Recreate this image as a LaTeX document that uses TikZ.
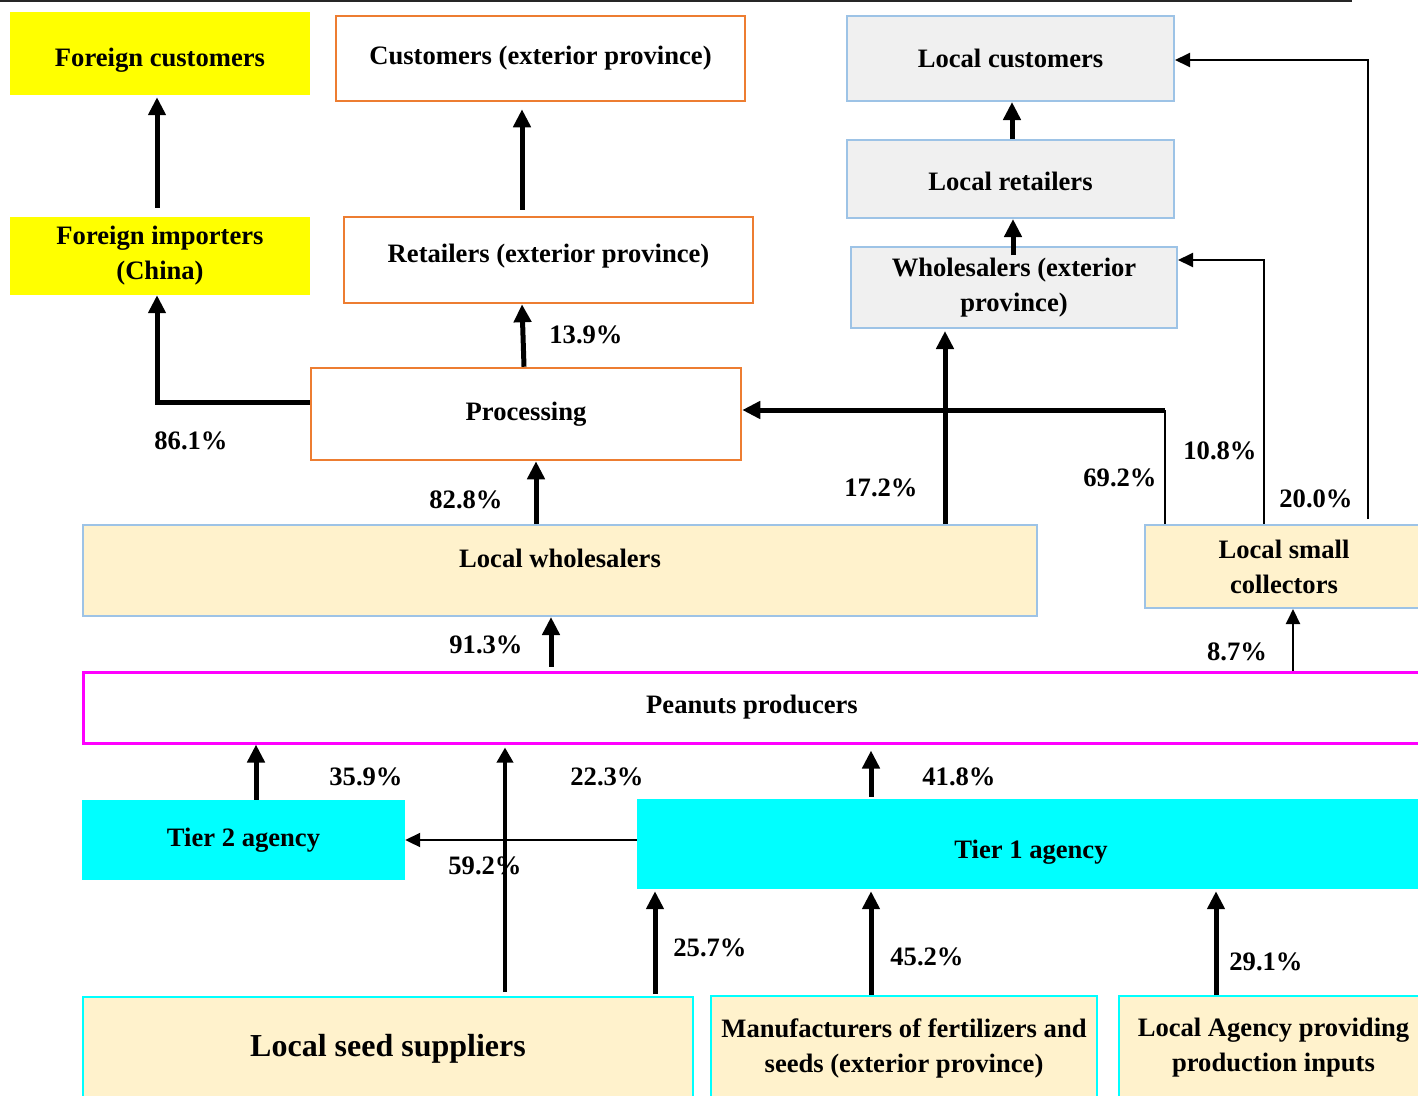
\documentclass[tikz,border=0pt]{standalone}
\usepackage{fontspec}
\setmainfont{Liberation Serif}
\usetikzlibrary{arrows.meta}

\definecolor{boxorange}{HTML}{ED7D31}
\definecolor{boxblue}{HTML}{9DC3E6}
\definecolor{boxgrey}{HTML}{F0F0F0}
\definecolor{boxcream}{HTML}{FFF2CC}
\definecolor{boxcyan}{HTML}{00FFFF}
\definecolor{boxyellow}{HTML}{FFFF00}
\definecolor{boxmagenta}{HTML}{FF00FF}

\begin{document}
\begin{tikzpicture}[x=1pt, y=-1pt,
		font=\bfseries\fontsize{26.6}{35}\selectfont,
		box/.style={rectangle, align=center, inner sep=0pt},
		yellowbox/.style={box, fill=boxyellow},
		orangebox/.style={box, draw=boxorange, line width=2.5pt, fill=white},
		greybox/.style={box, draw=boxblue, line width=2pt, fill=boxgrey},
		creambox/.style={box, draw=boxblue, line width=2pt, fill=boxcream},
		supplierbox/.style={box, draw=boxcyan, line width=2pt, fill=boxcream},
		producerbox/.style={box, draw=boxmagenta, line width=3pt, fill=white},
		cyanbox/.style={box, fill=boxcyan},
		share/.style={inner sep=0pt},
		bigarrow/.style={line width=5pt, >={Triangle[length=18pt, width=17pt]}},
		midarrow/.style={line width=3.5pt, >={Triangle[length=15pt, width=16pt]}},
		thinarrow/.style={line width=2pt, >={Triangle[length=15pt, width=14pt]}}]
		\useasboundingbox (0,0) rectangle (1418,1095);
		\clip (0,0) rectangle (1418,1095);
		\draw[line width=2pt, black!85] (0,1) -- (1352,1);

		% buyers side
		\node[yellowbox, minimum width=300pt, minimum height=83pt, text height=32pt, text depth=5.5pt] (fcus) at (160,53.5) {Foreign customers};
		\node[orangebox, minimum width=409pt, minimum height=85pt] (ccus) at (540.5,58.5) {Customers (exterior province)};
		\node[yellowbox, minimum width=300pt, minimum height=78pt] (fimp) at (160,256) {Foreign importers\\(China)};
		\node[orangebox, minimum width=409pt, minimum height=86pt, text height=18pt, text depth=13.5pt] (cret) at (548.5,260) {Retailers (exterior province)};
		\node[greybox, minimum width=327pt, minimum height=85pt] (lcus) at (1010.5,58.5) {Local customers};
		\node[greybox, minimum width=327pt, minimum height=78pt, text height=28pt, text depth=5.5pt] (lret) at (1010.5,179) {Local retailers};
		\node[greybox, minimum width=326pt, minimum height=81pt] (whex) at (1014,287.5) {Wholesalers (exterior\\province)};
		\node[orangebox, minimum width=430pt, minimum height=92pt] (proc) at (526,414) {Processing};
		\node[creambox, minimum width=954pt, minimum height=91pt, text height=18pt, text depth=23.5pt] (lwho) at (560,570.5) {Local wholesalers};
		\node[creambox, minimum width=278pt, minimum height=83pt] (lcol) at (1284,566.5) {Local small\\collectors};

		% producers and inputs
		\node[producerbox, minimum width=1338pt, minimum height=71pt] (prod) at (752,707.5) {Peanuts producers};
		\node[cyanbox, minimum width=323pt, minimum height=80pt] (tier2) at (243.5,840) {Tier 2 agency};
		\node[cyanbox, minimum width=788pt, minimum height=90pt, text height=34pt, text depth=5.5pt] (tier1) at (1031,844) {Tier 1 agency};
		\node[supplierbox, minimum width=610pt, minimum height=103pt, font=\bfseries\fontsize{32}{38}\selectfont] (seed) at (388,1048.5) {Local seed suppliers};
		\node[supplierbox, minimum width=386pt, minimum height=104pt] (manu) at (904,1048) {Manufacturers of fertilizers and\\seeds (exterior province)};
		\node[supplierbox, minimum width=309pt, minimum height=104pt] (lagy) at (1273.5,1048) {Local Agency providing\\production inputs};

		% flows
		\draw[->, bigarrow, shorten <=9pt, shorten >=2pt] ([xshift=-3pt]fimp.north) -- ([xshift=-3pt]fcus.south);
		\draw[->, bigarrow, shorten <=6pt, shorten >=7pt] ([xshift=-26.5pt]cret.north) -- ([xshift=-18.5pt]ccus.south);
		\draw[->, bigarrow] ([xshift=-2pt]proc.north) -- ([xshift=-26.5pt]cret.south);
		\draw[->, bigarrow] ([yshift=12pt]proc.west) -| ([xshift=-3pt]fimp.south);
		\draw[->, bigarrow] ([xshift=-24pt]lwho.north) -- ([xshift=10pt]proc.south);
		\draw[->, bigarrow, shorten >=2pt] ([xshift=385pt]lwho.north) -- ([xshift=-69pt]whex.south);
		\path ([xshift=-119pt]lcol.north) |- coordinate[pos=0.5] (kneecol) ([yshift=4pt]proc.east);
		\draw[thinarrow] ([xshift=-119pt]lcol.north) -- (kneecol);
		\draw[->, bigarrow] (kneecol) -- ([yshift=4pt]proc.east);
		\draw[->, thinarrow] ([xshift=-20pt]lcol.north) |- ([yshift=27.5pt]whex.east);
		\draw[->, thinarrow, shorten <=5pt] ([xshift=84pt]lcol.north) |- ([yshift=-1.5pt]lcus.east);
		\draw[->, bigarrow] ([xshift=1.5pt]lret.north) -- ([xshift=1.5pt]lcus.south);
		\draw[->, bigarrow, shorten <=-9pt] ([xshift=-1pt]whex.north) -- ([xshift=2.5pt]lret.south);
		\draw[->, bigarrow, shorten <=4pt] ([xshift=-201pt]prod.north) -- ([xshift=-9pt]lwho.south);
		\draw[->, thinarrow] ([xshift=541pt]prod.north) -- ([xshift=9pt]lcol.south);
		\draw[->, bigarrow] ([xshift=12.5pt]tier2.north) -- ([xshift=-496pt]prod.south);
		\draw[->, midarrow, shorten <=4pt, shorten >=3pt] ([xshift=117pt]seed.north) -- ([xshift=-247pt]prod.south);
		\draw[->, thinarrow] ([yshift=4pt]tier1.west) -- (tier2.east);
		\draw[->, bigarrow, shorten <=2pt, shorten >=6pt] ([xshift=-160pt]tier1.north) -- ([xshift=119pt]prod.south);
		\draw[->, bigarrow, shorten <=2pt, shorten >=2pt] ([xshift=267pt]seed.north) -- ([xshift=-376pt]tier1.south);
		\draw[->, bigarrow, shorten >=2pt] ([xshift=-33pt]manu.north) -- ([xshift=-160pt]tier1.south);
		\draw[->, bigarrow, shorten >=2pt] ([xshift=-57.5pt]lagy.north) -- ([xshift=185pt]tier1.south);

		% shares
		\node[share] (shr139) at (586,335) {13.9\%};
		\node[share] (shr861) at (191,441) {86.1\%};
		\node[share] (shr828) at (466,500) {82.8\%};
		\node[share] (shr172) at (881,488) {17.2\%};
		\node[share] (shr692) at (1120,478) {69.2\%};
		\node[share] (shr108) at (1220,451) {10.8\%};
		\node[share] (shr200) at (1316,499) {20.0\%};
		\node[share] (shr913) at (486,645) {91.3\%};
		\node[share] (shr87) at (1237,652) {8.7\%};
		\node[share] (shr359) at (366,777) {35.9\%};
		\node[share] (shr223) at (607,777) {22.3\%};
		\node[share] (shr418) at (959,777) {41.8\%};
		\node[share] (shr592) at (485,866) {59.2\%};
		\node[share] (shr257) at (710,948) {25.7\%};
		\node[share] (shr452) at (927,957) {45.2\%};
		\node[share] (shr291) at (1266,962) {29.1\%};
	\end{tikzpicture}
\end{document}
